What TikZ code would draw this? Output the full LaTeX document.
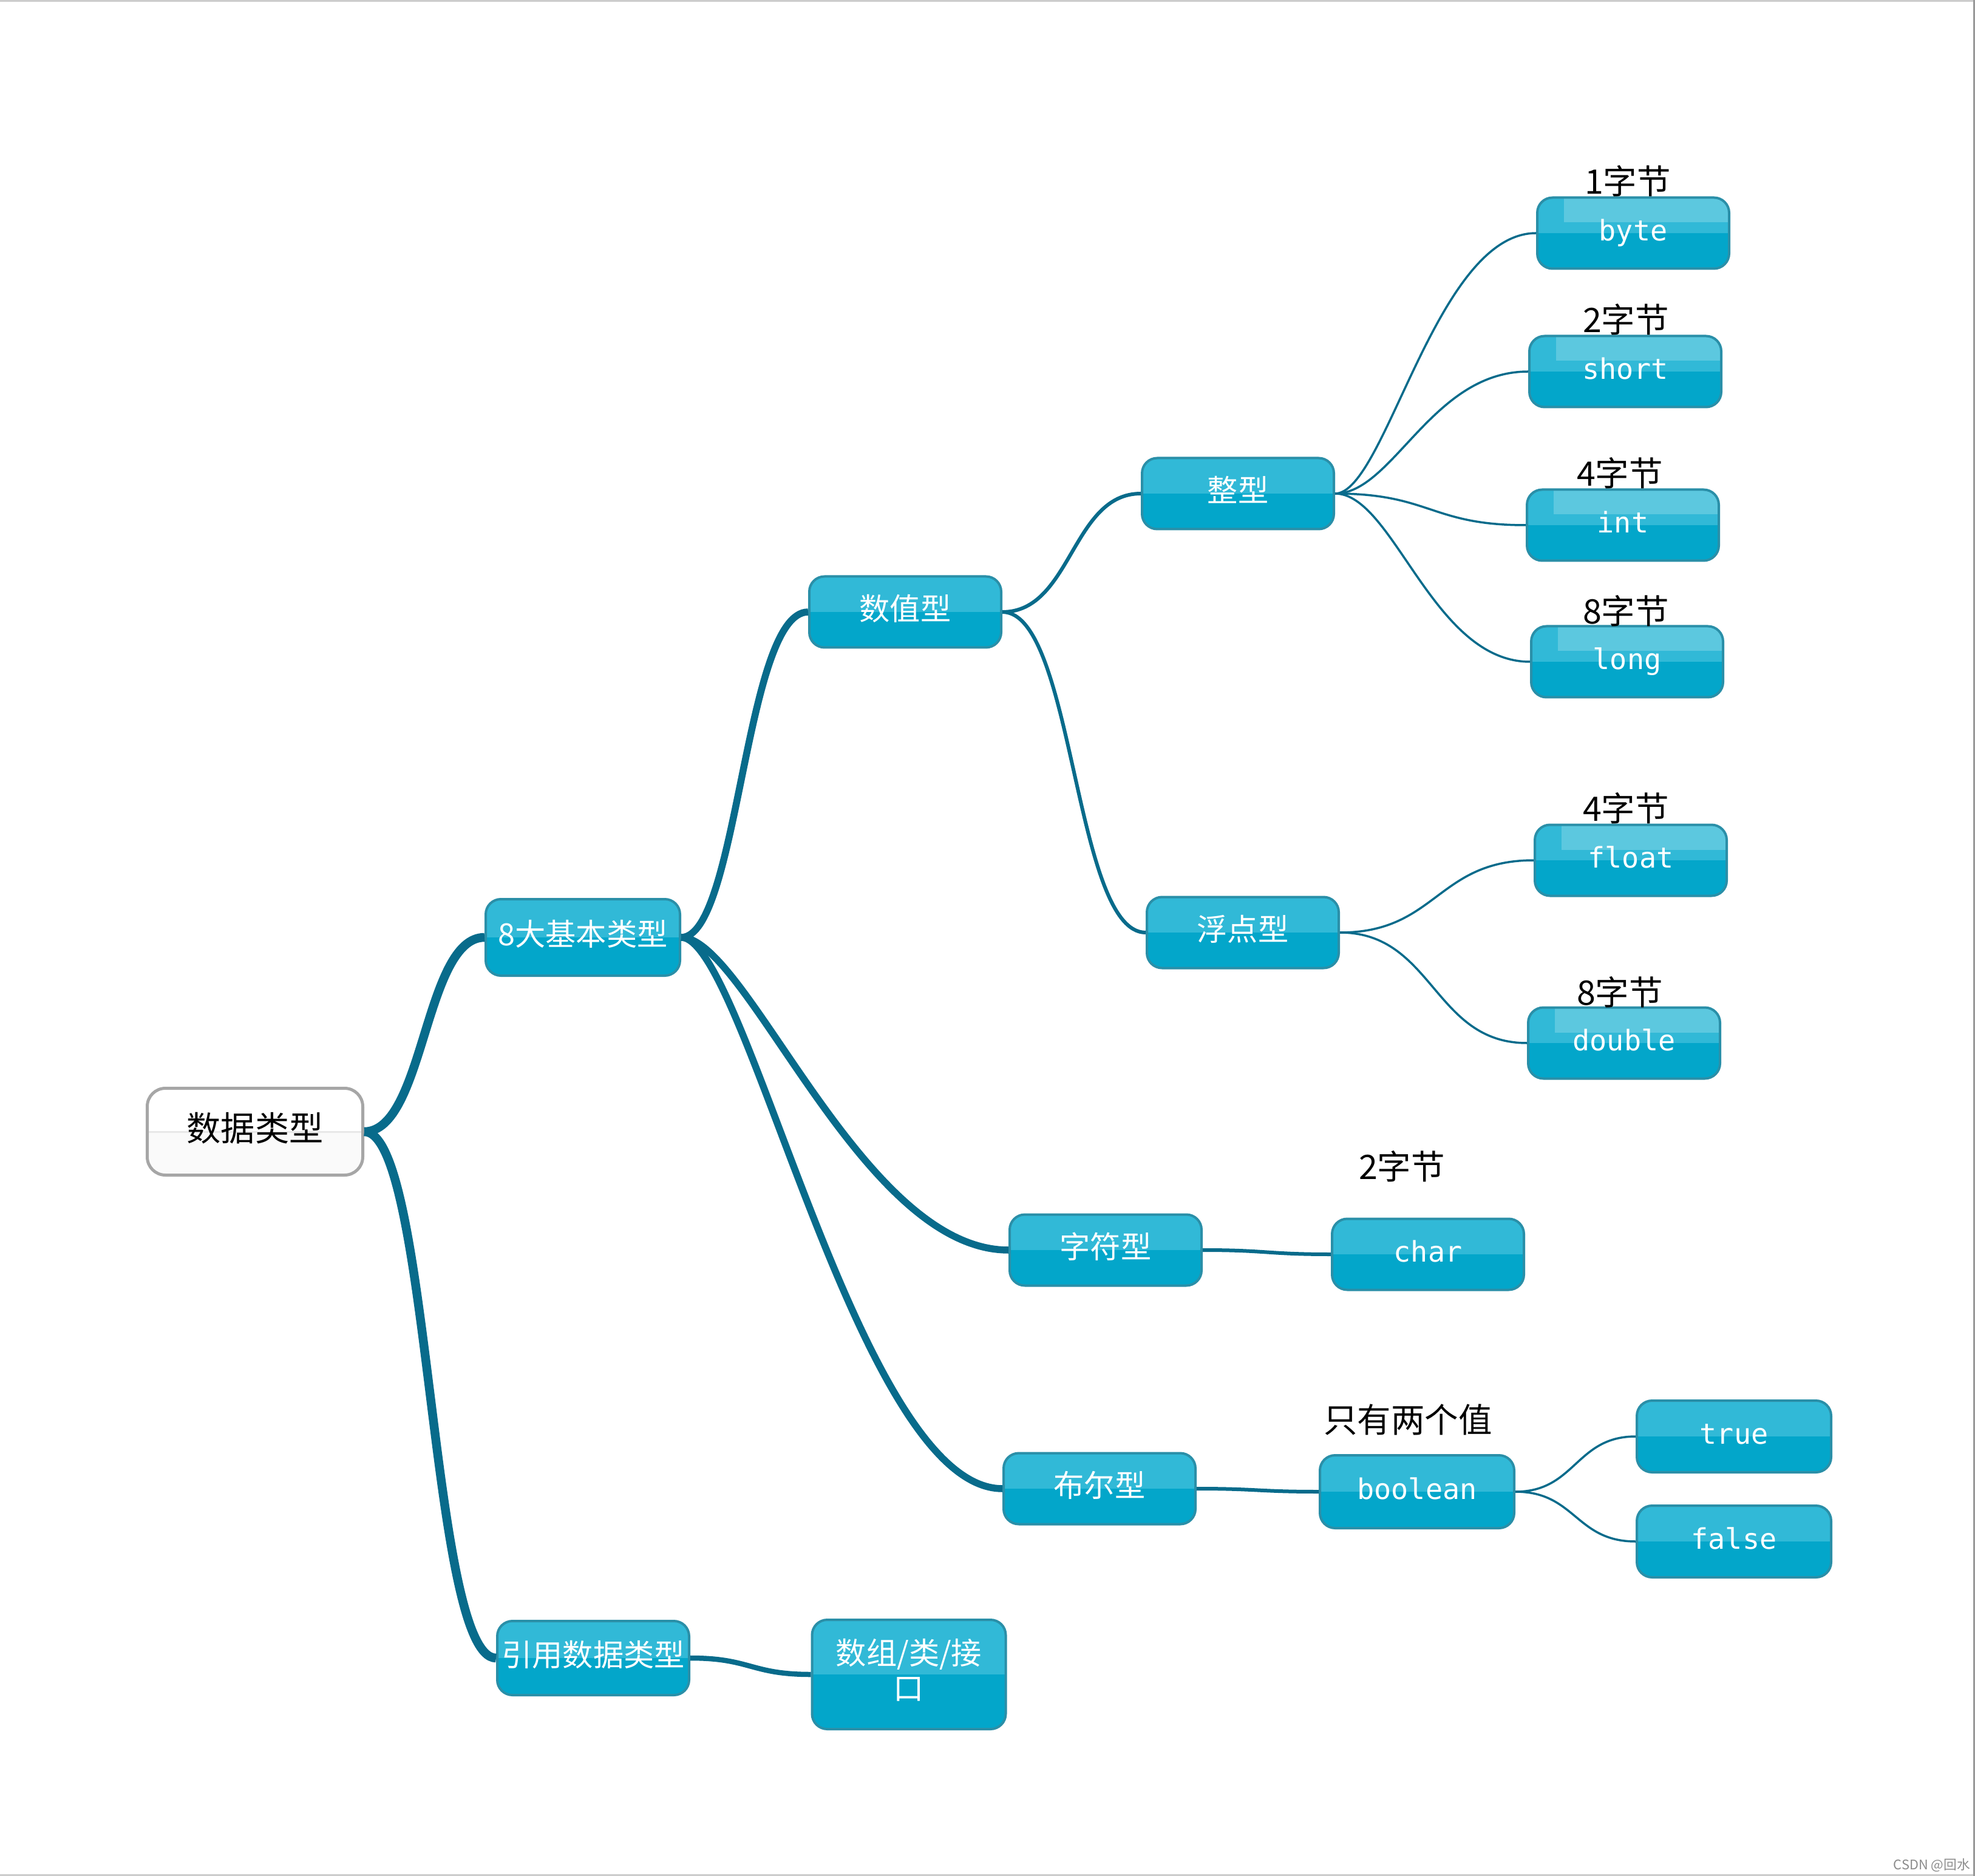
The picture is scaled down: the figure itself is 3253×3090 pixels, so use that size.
\documentclass[tikz,border=0pt]{standalone}
\usepackage{fontspec}
\newfontfamily\cjk{Noto Sans CJK SC}
\newfontfamily\monof{DejaVu Sans Mono}
\usetikzlibrary{calc}
\definecolor{topblue}{HTML}{31B9D7}
\definecolor{botblue}{HTML}{03A6CA}
\definecolor{hiblue}{HTML}{5CC8DF}
\definecolor{edgeblue}{HTML}{2A8FA8}
\definecolor{linkc}{HTML}{086B8B}
\tikzset{
  bluebox/.style={rounded corners=2.5mm, fill=botblue, draw=edgeblue, line width=0.4mm,
    minimum width=31.6mm, minimum height=11.7mm, inner sep=0pt, text=white,
    font=\cjk\fontsize{14.3}{16.5}\selectfont, text height=12.2pt, text depth=4.5pt,
    path picture={\fill[topblue, sharp corners] (path picture bounding box.north west) rectangle (path picture bounding box.east);}},
  monobox/.style={bluebox, font=\monof\fontsize{13.3}{16}\selectfont, text height=10.1pt, text depth=3pt},
  hibox/.style={monobox,
    path picture={\fill[topblue, sharp corners] (path picture bounding box.north west) rectangle (path picture bounding box.east);
      \fill[hiblue, sharp corners] ([xshift=4.4mm]path picture bounding box.north west) rectangle ([yshift=-4.1mm]path picture bounding box.north east);}},
  rootbox/.style={rounded corners=3mm, fill=white, draw=black!35, line width=0.5mm,
    minimum width=35.5mm, minimum height=14.3mm, inner sep=0pt,
    font=\cjk\fontsize{16}{19}\selectfont, text height=13.6pt, text depth=4.7pt,
    path picture={\fill[black!2, sharp corners] (path picture bounding box.west) rectangle (path picture bounding box.south east);
      \draw[black!9, line width=0.3mm] (path picture bounding box.west) -- (path picture bounding box.east);}},
  lbl/.style={inner sep=0pt, font=\cjk\fontsize{15.8}{18}\selectfont, text=black},
  lkA/.style={draw=linkc, line width=1.45mm},
  lkB/.style={draw=linkc, line width=1.15mm},
  lkR/.style={draw=linkc, line width=0.85mm},
  lkC/.style={draw=linkc, line width=0.6mm},
  lkD/.style={draw=linkc, line width=0.35mm},
}
% \conn{from}{to}{style}{start fraction}{end fraction}
\newcommand\conn[5]{\draw[#3] let \p1=(#1.east), \p2=(#2.west) in (\p1) .. controls ({\x1+#4*(\x2-\x1)},\y1) and ({\x2-#5*(\x2-\x1)},\y2) .. (\p2);}
\begin{document}
\begin{tikzpicture}[x=0.1mm,y=-0.1mm]
\useasboundingbox (0,0) rectangle (3253,3090);
\fill[white] (0,0) rectangle (3253,3090);
\draw[black!20, line width=0.3mm] (0,1.5) -- (3253,1.5);
\draw[black!20, line width=0.3mm] (0,3088) -- (3253,3088);
\draw[black!40, line width=0.3mm] (3251,0) -- (3251,3090);

% nodes
\node[rootbox] (root) at (420,1864) {数据类型};
\node[bluebox, minimum width=32mm, minimum height=12.6mm] (b8) at (960,1544) {8大基本类型};
\node[bluebox] (num) at (1491,1008) {数值型};
\node[bluebox] (intt) at (2039,813) {整型};
\node[bluebox] (flt) at (2047,1536) {浮点型};
\node[bluebox] (chr) at (1821,2059) {字符型};
\node[bluebox] (bol) at (1811,2452) {布尔型};
\node[bluebox, minimum height=12.2mm] (ref) at (977,2731) {引用数据类型};
\node[bluebox, minimum width=31.9mm, minimum height=18mm, text height=, text depth=] (arr) at (1497,2758)
  {\begin{tabular}{@{}c@{}}数组/类/接\\口\end{tabular}};

\node[hibox] (byte) at (2690,384) {byte};
\node[hibox] (short) at (2677,612) {short};
\node[hibox] (int) at (2673,865) {int};
\node[hibox] (long) at (2680,1090) {long};
\node[hibox] (float) at (2686,1417) {float};
\node[hibox] (double) at (2675,1718) {double};
\node[monobox] (char) at (2352,2066) {char};
\node[monobox, minimum width=32mm, minimum height=12mm] (boolean) at (2334,2457) {boolean};
\node[monobox, minimum width=32mm, minimum height=11.8mm] (true) at (2856,2366) {true};
\node[monobox, minimum width=32mm, minimum height=11.8mm] (false) at (2856,2539) {false};

% labels
\node[lbl] (t1) at (2681,298) {1字节};
\node[lbl] (t2) at (2678,526) {2字节};
\node[lbl] (t3) at (2668,779) {4字节};
\node[lbl] (t4) at (2678,1006) {8字节};
\node[lbl] (t5) at (2678,1331) {4字节};
\node[lbl] (t6) at (2668,1634) {8字节};
\node[lbl] (t7) at (2309,1921) {2字节};
\node[lbl] (t8) at (2319,2338) {只有两个值};

% connectors
\conn{root}{b8}{lkA}{0.5}{0.5}
\conn{root}{ref}{lkA}{0.5}{0.5}
\conn{b8}{num}{lkB}{0.45}{0.5}
\conn{b8}{chr}{lkB}{0.2}{0.45}
\conn{b8}{bol}{lkB}{0.2}{0.45}
\conn{ref}{arr}{lkR}{0.5}{0.5}
\conn{num}{intt}{lkC}{0.5}{0.5}
\conn{num}{flt}{lkC}{0.5}{0.5}
\conn{intt}{byte}{lkD}{0.25}{0.5}
\conn{intt}{short}{lkD}{0.3}{0.5}
\conn{intt}{int}{lkD}{0.5}{0.5}
\conn{intt}{long}{lkD}{0.3}{0.5}
\conn{flt}{float}{lkD}{0.5}{0.5}
\conn{flt}{double}{lkD}{0.5}{0.5}
\conn{chr}{char}{lkC}{0.5}{0.5}
\conn{bol}{boolean}{lkC}{0.5}{0.5}
\conn{boolean}{true}{lkD}{0.5}{0.5}
\conn{boolean}{false}{lkD}{0.5}{0.5}

% watermark
\node[inner sep=0pt, text=black!45, font=\cjk\fontsize{6.2}{7}\selectfont] (wm) at (3182,3072) {CSDN @回水};
\end{tikzpicture}
\end{document}
